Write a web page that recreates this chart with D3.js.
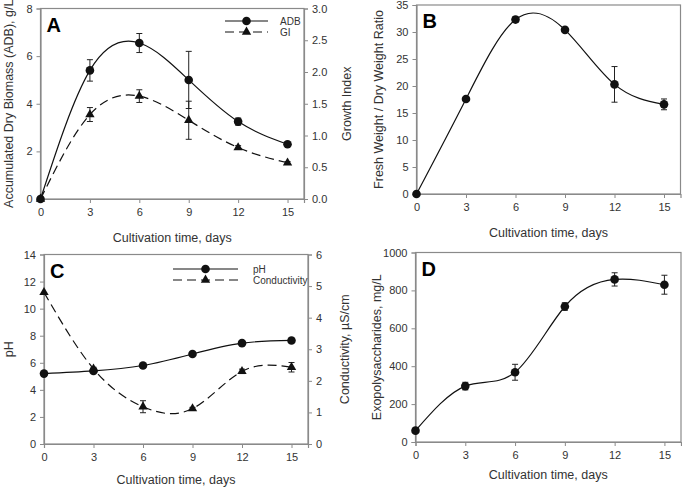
<!DOCTYPE html>
<html><head><meta charset="utf-8">
<script src="https://cdn.jsdelivr.net/npm/d3@7"></script>
<style>body{margin:0;background:#fff}svg{display:block}text{font-family:"Liberation Sans",Arial,sans-serif}</style>
</head><body><svg id="c" width="682" height="492"></svg>
<script>
const days = [0, 3, 6, 9, 12, 15];
const xTicks = [0, 3, 6, 9, 12, 15];
// Panel A
const adb = [0, 5.4, 6.55, 5.0, 3.25, 2.3];
const adbErr = [0, 0.45, 0.4, 1.2, 0.15, 0.05];
const gi = [0, 1.33, 1.62, 1.24, 0.81, 0.57];
const giErr = [0, 0.11, 0.1, 0.3, 0.03, 0.02];
// Panel B
const fwdw = [0, 17.6, 32.3, 30.4, 20.3, 16.6];
const fwdwErr = [0, 0.3, 0.5, 0.3, 3.3, 1.0];
// Panel C
const ph = [5.2, 5.4, 5.8, 6.65, 7.45, 7.65];
const phErr = [0, 0.1, 0.1, 0.1, 0.1, 0.1];
const cond = [4.8, 2.38, 1.18, 1.12, 2.3, 2.43];
const condErr = [0, 0.05, 0.19, 0.04, 0.07, 0.15];
// Panel D
const eps = [60, 295, 368, 715, 858, 830];
const epsErr = [0, 20, 42, 20, 35, 50];

const svg = d3.select("#c");
const axisCol = "#8a8a8a", txtCol = "#333";

function panel(o) {
  const g = svg.append("g");
  const x = d3.scaleLinear().domain([0, 16]).range([o.x0, o.x1]);
  const yL = d3.scaleLinear().domain(o.yDom).range([o.y1, o.y0]);
  const yR = o.yRDom ? d3.scaleLinear().domain(o.yRDom).range([o.y1, o.y0]) : null;
  g.append("rect").attr("x", o.x0).attr("y", o.y0).attr("width", o.x1 - o.x0).attr("height", o.y1 - o.y0)
    .attr("fill", "none").attr("stroke", axisCol).attr("stroke-width", 1.2);
  const styleAx = sel => {
    sel.select(".domain").attr("stroke", axisCol).attr("stroke-width", 1.2);
    sel.selectAll(".tick line").attr("stroke", axisCol);
    sel.selectAll(".tick text").attr("fill", txtCol).style("font-size", "11px").attr("font-family", "Liberation Sans, Arial, sans-serif");
  };
  g.append("g").attr("transform", `translate(0,${o.y1})`)
    .call(d3.axisBottom(x).tickValues(xTicks).tickSizeOuter(0).tickSize(4).tickPadding(5)).call(styleAx);
  g.append("g").attr("transform", `translate(${o.x0},0)`)
    .call(d3.axisLeft(yL).tickValues(o.yTicks).tickFormat(o.yFmt || d3.format("d")).tickSizeOuter(0).tickSize(4).tickPadding(4)).call(styleAx);
  if (yR) {
    g.append("g").attr("transform", `translate(${o.x1},0)`)
      .call(d3.axisRight(yR).tickValues(o.yRTicks).tickFormat(o.yRFmt).tickSizeOuter(0).tickSize(4).tickPadding(4)).call(styleAx);
  }
  const cx = (o.x0 + o.x1) / 2;
  g.append("text").attr("x", cx).attr("y", o.xTitleY).attr("text-anchor", "middle")
    .attr("fill", txtCol).style("font-size", "12.5px").text("Cultivation time, days");
  g.append("text").attr("transform", `translate(${o.yTitleX},${(o.y0 + o.y1) / 2}) rotate(-90)`)
    .attr("text-anchor", "middle").attr("fill", txtCol).style("font-size", "12.5px").text(o.yTitle);
  if (o.yRTitle) {
    g.append("text").attr("transform", `translate(${o.yRTitleX},${(o.y0 + o.y1) / 2}) rotate(-90)`)
      .attr("text-anchor", "middle").attr("fill", txtCol).style("font-size", "12.5px").text(o.yRTitle);
  }
  g.append("text").attr("x", o.x0 + 6).attr("y", o.y0 + 23).attr("font-weight", "bold")
    .style("font-size", "20px").attr("fill", "#000").text(o.letter);
  o.series.forEach(s => {
    const ys = s.right ? yR : yL;
    const pts = days.map((d, i) => [x(d), ys(s.vals[i])]);
    g.append("path").attr("d", d3.line().curve(d3.curveNatural)(pts))
      .attr("fill", "none").attr("stroke", "#111").attr("stroke-width", 1.2)
      .attr("stroke-dasharray", s.dash ? "9,5" : null);
    days.forEach((d, i) => {
      const e = s.err[i];
      if (e > 0) {
        const xx = x(d), t = ys(s.vals[i] + e), b = ys(s.vals[i] - e);
        g.append("line").attr("x1", xx).attr("x2", xx).attr("y1", t).attr("y2", b).attr("stroke", "#222").attr("stroke-width", 1);
        [t, b].forEach(yy => g.append("line").attr("x1", xx - 3).attr("x2", xx + 3).attr("y1", yy).attr("y2", yy).attr("stroke", "#222").attr("stroke-width", 1));
      }
    });
    days.forEach((d, i) => {
      const xx = x(d), yy = ys(s.vals[i]);
      if (s.tri) {
        g.append("path").attr("d", d3.symbol(d3.symbolTriangle, 38)()).attr("transform", `translate(${xx},${yy})`).attr("fill", "#111");
      } else {
        g.append("circle").attr("cx", xx).attr("cy", yy).attr("r", 4.3).attr("fill", "#111");
      }
    });
  });
  if (o.legend) {
    o.legend.forEach((L, i) => {
      const ly = o.legend.y + i * 11;
      g.append("line").attr("x1", o.legend.x).attr("x2", o.legend.x + o.legend.w).attr("y1", ly).attr("y2", ly)
        .attr("stroke", "#111").attr("stroke-width", 1.2).attr("stroke-dasharray", L.dash ? "9,5" : null);
      const mx = o.legend.x + o.legend.w / 2;
      if (L.tri) g.append("path").attr("d", d3.symbol(d3.symbolTriangle, 38)()).attr("transform", `translate(${mx},${ly})`).attr("fill", "#111");
      else g.append("circle").attr("cx", mx).attr("cy", ly).attr("r", 4.3).attr("fill", "#111");
      g.append("text").attr("x", o.legend.tx).attr("y", ly + 3.5).attr("fill", txtCol).style("font-size", "10px").text(L.name);
    });
  }
}

const legA = [{name: "ADB"}, {name: "GI", dash: true, tri: true}];
legA.x = 225; legA.w = 43; legA.y = 21; legA.tx = 280;
panel({x0: 40.5, x1: 304, y0: 8.5, y1: 199, yDom: [0, 8], yTicks: [0, 2, 4, 6, 8],
  yRDom: [0, 3], yRTicks: [0, 0.5, 1, 1.5, 2, 2.5, 3], yRFmt: d3.format(".1f"),
  yTitle: "Accumulated Dry Biomass (ADB), g/L", yTitleX: 13, yRTitle: "Growth Index", yRTitleX: 351,
  xTitleY: 242, letter: "A", legend: legA,
  series: [{vals: adb, err: adbErr}, {vals: gi, err: giErr, right: true, dash: true, tri: true}]});

panel({x0: 416.5, x1: 680.5, y0: 5, y1: 194, yDom: [0, 35], yTicks: [0, 5, 10, 15, 20, 25, 30, 35],
  yTitle: "Fresh Weight / Dry Weight Ratio", yTitleX: 383, xTitleY: 237, letter: "B",
  series: [{vals: fwdw, err: fwdwErr}]});

const legC = [{name: "pH"}, {name: "Conductivity", dash: true, tri: true}];
legC.x = 173; legC.w = 65; legC.y = 269; legC.tx = 253;
panel({x0: 44, x1: 308, y0: 254.5, y1: 444, yDom: [0, 14], yTicks: [0, 2, 4, 6, 8, 10, 12, 14],
  yRDom: [0, 6], yRTicks: [0, 1, 2, 3, 4, 5, 6], yRFmt: d3.format("d"),
  yTitle: "pH", yTitleX: 13, yRTitle: "Conductivity, µS/cm", yRTitleX: 349,
  xTitleY: 484, letter: "C", legend: legC,
  series: [{vals: ph, err: phErr}, {vals: cond, err: condErr, right: true, dash: true, tri: true}]});

panel({x0: 415.5, x1: 681, y0: 252.5, y1: 442, yDom: [0, 1000], yTicks: [0, 200, 400, 600, 800, 1000],
  yTitle: "Exopolysaccharides, mg/L", yTitleX: 381, xTitleY: 479, letter: "D",
  series: [{vals: eps, err: epsErr}]});
</script></body></html>
